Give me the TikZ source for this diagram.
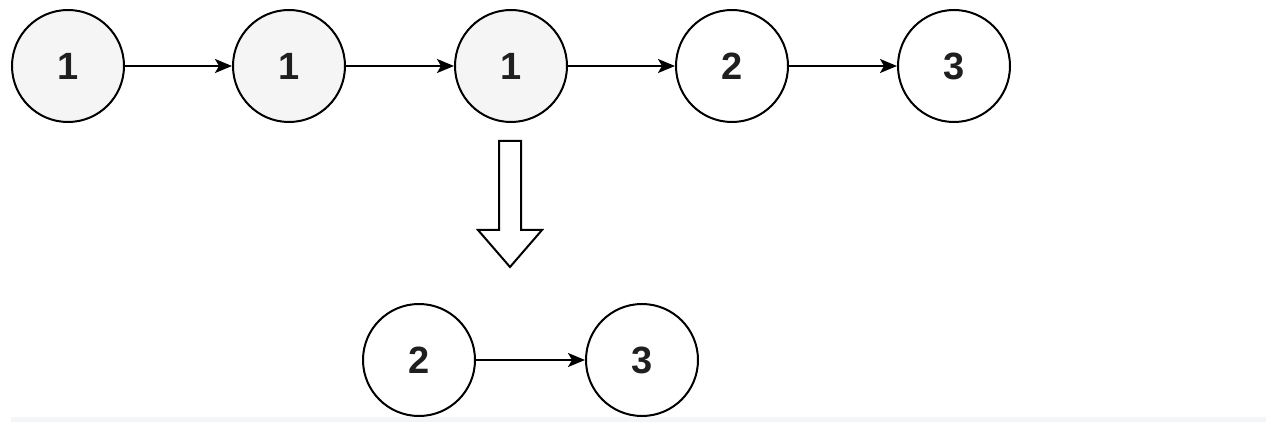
\documentclass[tikz,border=0pt]{standalone}
\usepackage{fontspec}
\setmainfont{Liberation Sans}
\usetikzlibrary{arrows.meta}
\definecolor{nodegray}{HTML}{F5F5F5}
\definecolor{bandgray}{HTML}{F4F5F7}
\tikzset{
  listnode/.style={circle, draw=black, line width=2pt, minimum size=112pt, inner sep=0pt, font=\fontsize{38}{38}\selectfont\bfseries, text=black!88},
  visited/.style={listnode, fill=nodegray},
  plain/.style={listnode, fill=white},
  link/.style={line width=2pt, -{Stealth[length=17pt,width=14pt,inset=4pt]}},
  bigarrow/.style={draw=black, line width=2pt, fill=white, line join=miter}
}
\begin{document}
\begin{tikzpicture}[x=1pt,y=-1pt]
\useasboundingbox (0,0) rectangle (1272,422);
\fill[bandgray] (11,417) rectangle (1266,422);
\node[visited] (a1) at (68,66) {1};
\node[visited] (a2) at (289,66) {1};
\node[visited] (a3) at (511,66) {1};
\node[plain] (a4) at (732,66) {2};
\node[plain] (a5) at (954,66) {3};
\node[plain] (b1) at (419,360) {2};
\node[plain] (b2) at (642,360) {3};
\draw[link] (a1) -- (a2);
\draw[link] (a2) -- (a3);
\draw[link] (a3) -- (a4);
\draw[link] (a4) -- (a5);
\draw[link] (b1) -- (b2);
\draw[bigarrow] (499,141) -- (521,141) -- (521,230) -- (542,230) -- (510,267) -- (478,230) -- (499,230) -- cycle;
\end{tikzpicture}
\end{document}
